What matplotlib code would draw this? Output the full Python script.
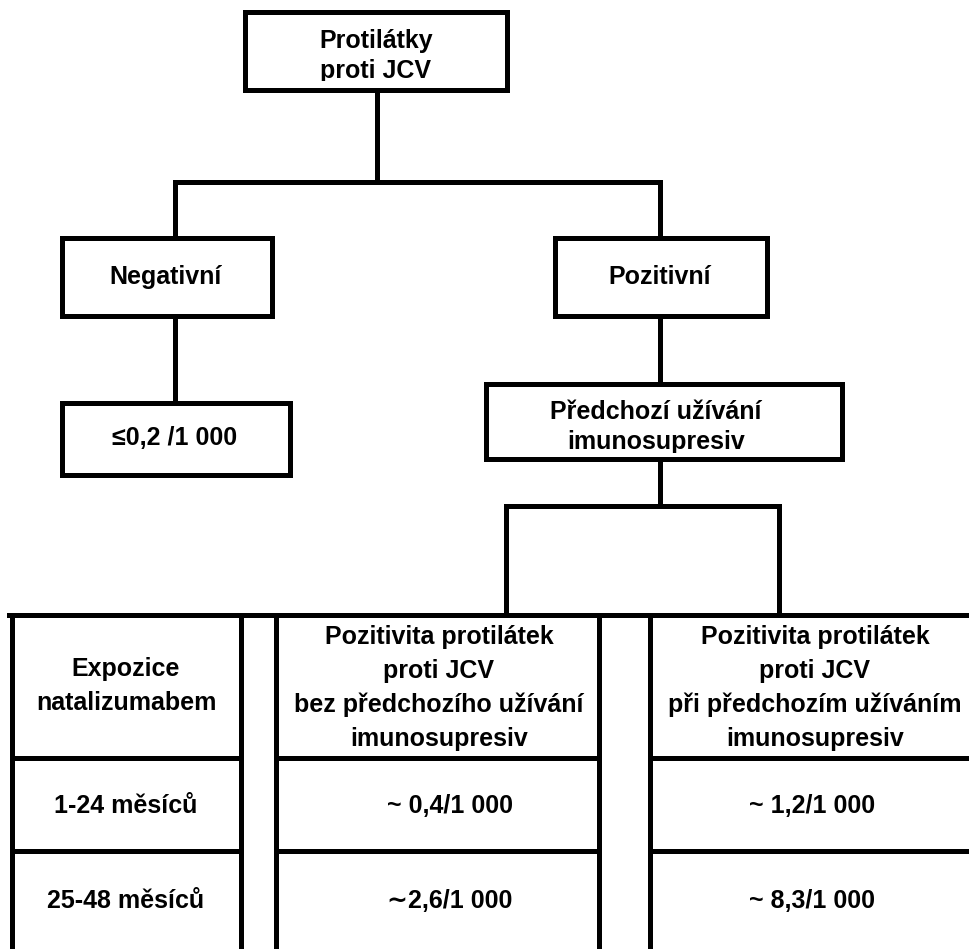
import matplotlib
matplotlib.use("Agg")
import matplotlib.pyplot as plt
from matplotlib.patches import Rectangle

plt.rcParams['font.family'] = ['Liberation Sans', 'DejaVu Sans']

# ---- data (texts) ----
root_label = "Protilátky\nproti JCV"
branch_labels = ["Negativní", "Pozitivní"]
negative_risk = "≤0,2 /1 000"
prior_label = "Předchozí užívání\nimunosupresiv"
table_headers = [
    "Expozice\nnatalizumabem",
    "Pozitivita protilátek\nproti JCV\nbez předchozího užívání\nimunosupresiv",
    "Pozitivita protilátek\nproti JCV\npři předchozím užíváním\nimunosupresiv",
]
exposure_rows = ["1-24 měsíců", "25-48 měsíců"]
risk_without_prior = ["~ 0,4/1 000", "\u223c2,6/1 000"]
risk_with_prior = ["~ 1,2/1 000", "~ 8,3/1 000"]

# ---- layout (pixel coordinates) ----
W, H = 969, 949
LW = 3.6
FS = 18

fig = plt.figure(figsize=(W / 100, H / 100), dpi=100)
ax = fig.add_axes([0, 0, 1, 1])
ax.set_xlim(0, W)
ax.set_ylim(H, 0)
ax.axis('off')


def box(x0, y0, x1, y1):
    ax.add_patch(Rectangle((x0, y0), x1 - x0, y1 - y0, fill=False,
                           edgecolor='black', linewidth=LW, joinstyle='miter'))


def line(xs, ys):
    ax.plot(xs, ys, color='black', linewidth=LW, solid_capstyle='projecting')


def label(x, y, s, ls=1.2, clip=None):
    t = ax.text(x, y, s, ha='center', va='center', fontsize=FS,
                fontweight='bold', linespacing=ls)
    if clip is not None:
        x0, y0, x1, y1 = clip
        cp = Rectangle((x0, y0), x1 - x0, y1 - y0, transform=ax.transData)
        t.set_clip_path(cp)
        t.set_clip_on(True)
    return t


# root
box(245, 12, 507, 90)
label(376, 56, root_label, ls=1.3, clip=(245, 12, 507, 81))
line([377, 377], [90, 182])
line([175, 660], [182, 182])
line([175, 175], [182, 238])
line([660, 660], [182, 238])

# branches
box(62, 238, 272, 316)
label(166, 277, branch_labels[0])
box(555, 238, 767, 316)
label(660, 277, branch_labels[1])

# negative result
line([175, 175], [316, 403])
box(62, 403, 290, 475)
label(175, 438, negative_risk)

# prior immunosuppressants
line([660, 660], [316, 384])
box(486, 384, 842, 459)
label(656, 427, prior_label, ls=1.3, clip=(486, 384, 842, 453))
line([660, 660], [459, 506])
line([506, 779], [506, 506])
line([506, 506], [506, 615])
line([779, 779], [506, 615])

# table
col_spans = [(12, 241), (276, 599), (650, 975)]
row_lines = [758, 851]
line([9, 975], [615, 615])
for (xa, xb) in col_spans:
    line([xa, xa], [615, 960])
    if xb < W:
        line([xb, xb], [615, 960])
    for yr in row_lines:
        ax.plot([xa, min(xb, 975)], [yr, yr], color='black', linewidth=LW)

header_x = [126, 439, 815]
label(header_x[0], 686, table_headers[0], ls=1.5)
label(header_x[1], 688, table_headers[1], ls=1.5)
label(header_x[2], 688, table_headers[2], ls=1.5)

row_y = [806, 901]
for i, y in enumerate(row_y):
    label(header_x[0], y, exposure_rows[i])
    label(450, y, risk_without_prior[i])
    label(812, y, risk_with_prior[i])

fig.savefig("out.png", dpi=100, facecolor='white')
